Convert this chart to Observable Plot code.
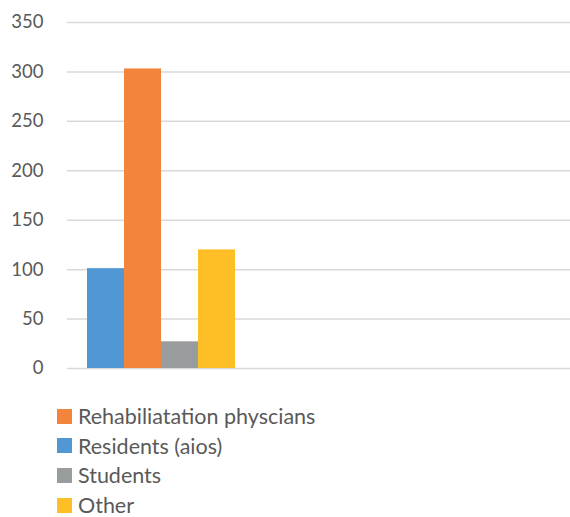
<!DOCTYPE html>
<html>
<head>
<meta charset="utf-8">
<script src="https://cdn.jsdelivr.net/npm/d3@7"></script>
<script src="https://cdn.jsdelivr.net/npm/@observablehq/plot@0.6"></script>
<style>
  html, body { margin: 0; padding: 0; background: #fff; overflow: hidden; }
  #chart { width: 570px; }
  .legend { margin-top: 16px; padding-left: 57px; font-family: Lato, "Open Sans", sans-serif; font-size: 21.5px; color: #595959; }
  .legend .row { height: 20px; line-height: 20px; margin-bottom: 9.7px; display: flex; align-items: center; }
  .legend .row:last-child { margin-bottom: 0; }
  .legend .sw { width: 15px; height: 15px; margin-right: 6px; flex: none; }
</style>
</head>
<body>
<div id="chart"></div>
<script>
const series = ["Residents (aios)", "Rehabiliatation physcians", "Students", "Other"];
const values = [101, 303, 27, 120];
const colors = ["#5097D4", "#F2843C", "#999C9D", "#FDBE26"];
const legendOrder = ["Rehabiliatation physcians", "Residents (aios)", "Students", "Other"];
const yTicks = [0, 50, 100, 150, 200, 250, 300, 350];

const data = series.map((s, i) => ({series: s, value: values[i]}));

const plot = Plot.plot({
  width: 570,
  height: 390,
  marginLeft: 67,
  marginRight: 0,
  marginTop: 22,
  marginBottom: 22,
  style: {fontFamily: "Lato, 'Open Sans', sans-serif", fontSize: "18.5px", color: "#595959", background: "#fff"},
  x: {domain: series, range: [86, 235], padding: 0, axis: null},
  y: {domain: [0, 350], ticks: yTicks, label: null},
  color: {domain: series, range: colors},
  marks: [
    Plot.ruleY(yTicks, {stroke: "#d9d9d9", strokeWidth: 1.5}),
    Plot.axisY({ticks: yTicks, tickSize: 0, tickPadding: 24, label: null, fill: "#595959"}),
    Plot.barY(data, {x: "series", y: "value", fill: "series", inset: 0})
  ]
});
document.getElementById("chart").appendChild(plot);

const colorOf = Object.fromEntries(series.map((s, i) => [s, colors[i]]));
const legend = document.createElement("div");
legend.className = "legend";
for (const s of legendOrder) {
  const row = document.createElement("div");
  row.className = "row";
  const sw = document.createElement("span");
  sw.className = "sw";
  sw.style.background = colorOf[s];
  const t = document.createElement("span");
  t.textContent = s;
  row.appendChild(sw);
  row.appendChild(t);
  legend.appendChild(row);
}
document.getElementById("chart").appendChild(legend);
</script>
</body>
</html>
